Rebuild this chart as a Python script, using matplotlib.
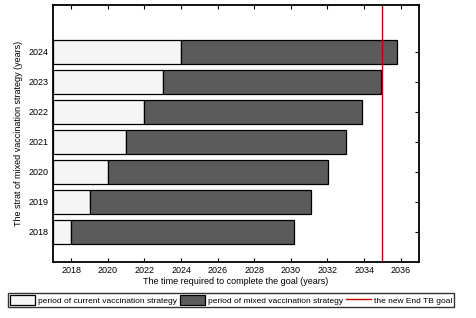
import matplotlib
matplotlib.use("Agg")
import matplotlib.pyplot as plt

plt.rcParams['font.family'] = ['Liberation Sans', 'DejaVu Sans']

start_years = [2018, 2019, 2020, 2021, 2022, 2023, 2024]
end_years = [2030.15, 2031.1, 2032.05, 2033.0, 2033.9, 2034.9, 2035.8]
axis_start = 2017
goal_year = 2035
x_ticks = [2018, 2020, 2022, 2024, 2026, 2028, 2030, 2032, 2034, 2036]

fig = plt.figure(figsize=(4.77, 3.18), dpi=100)
ax = fig.add_axes([53/477, 1-262/318, (419-53)/477, (262-5)/318])

pos = list(range(len(start_years)))
cur_w = [s - axis_start for s in start_years]
mix_w = [e - s for s, e in zip(start_years, end_years)]
h1 = ax.barh(pos, cur_w, left=axis_start, height=0.8, color='#f5f5f5', edgecolor='black', linewidth=0.9,
             label='period of current vaccination strategy')
h2 = ax.barh(pos, mix_w, left=start_years, height=0.8, color='#5b5b5b', edgecolor='black', linewidth=0.9,
             label='period of mixed vaccination strategy')
h3 = ax.axvline(goal_year, color='#c00000', linewidth=1.0, label='the new End TB goal')

ax.set_xlim(2017, 2037)
ax.set_ylim(-1, 7.55)
ax.set_xticks(x_ticks)
ax.set_yticks(pos)
ax.set_yticklabels([str(y) for y in start_years])
ax.tick_params(axis='both', direction='in', labelsize=6.5, length=3, width=0.8, top=True, right=True, pad=3)
ax.tick_params(axis='y', left=False)
for s in ax.spines.values():
    s.set_linewidth(1.3)
ax.set_xlabel('The time required to complete the goal (years)', fontsize=6.5, labelpad=1)
ax.set_ylabel('The strat of mixed vaccination strategy (years)', fontsize=6.5, labelpad=4)

leg = fig.legend(handles=[h1, h2, h3], loc='center', bbox_to_anchor=(231/477, 1-300/318), ncol=3, fontsize=6,
                 frameon=True, fancybox=False, edgecolor='black', handlelength=3.0, handleheight=1.5,
                 columnspacing=0.3, handletextpad=0.4, borderpad=0.2, borderaxespad=0)
leg.get_frame().set_linewidth(1.0)

fig.savefig('out.png', dpi=100)
